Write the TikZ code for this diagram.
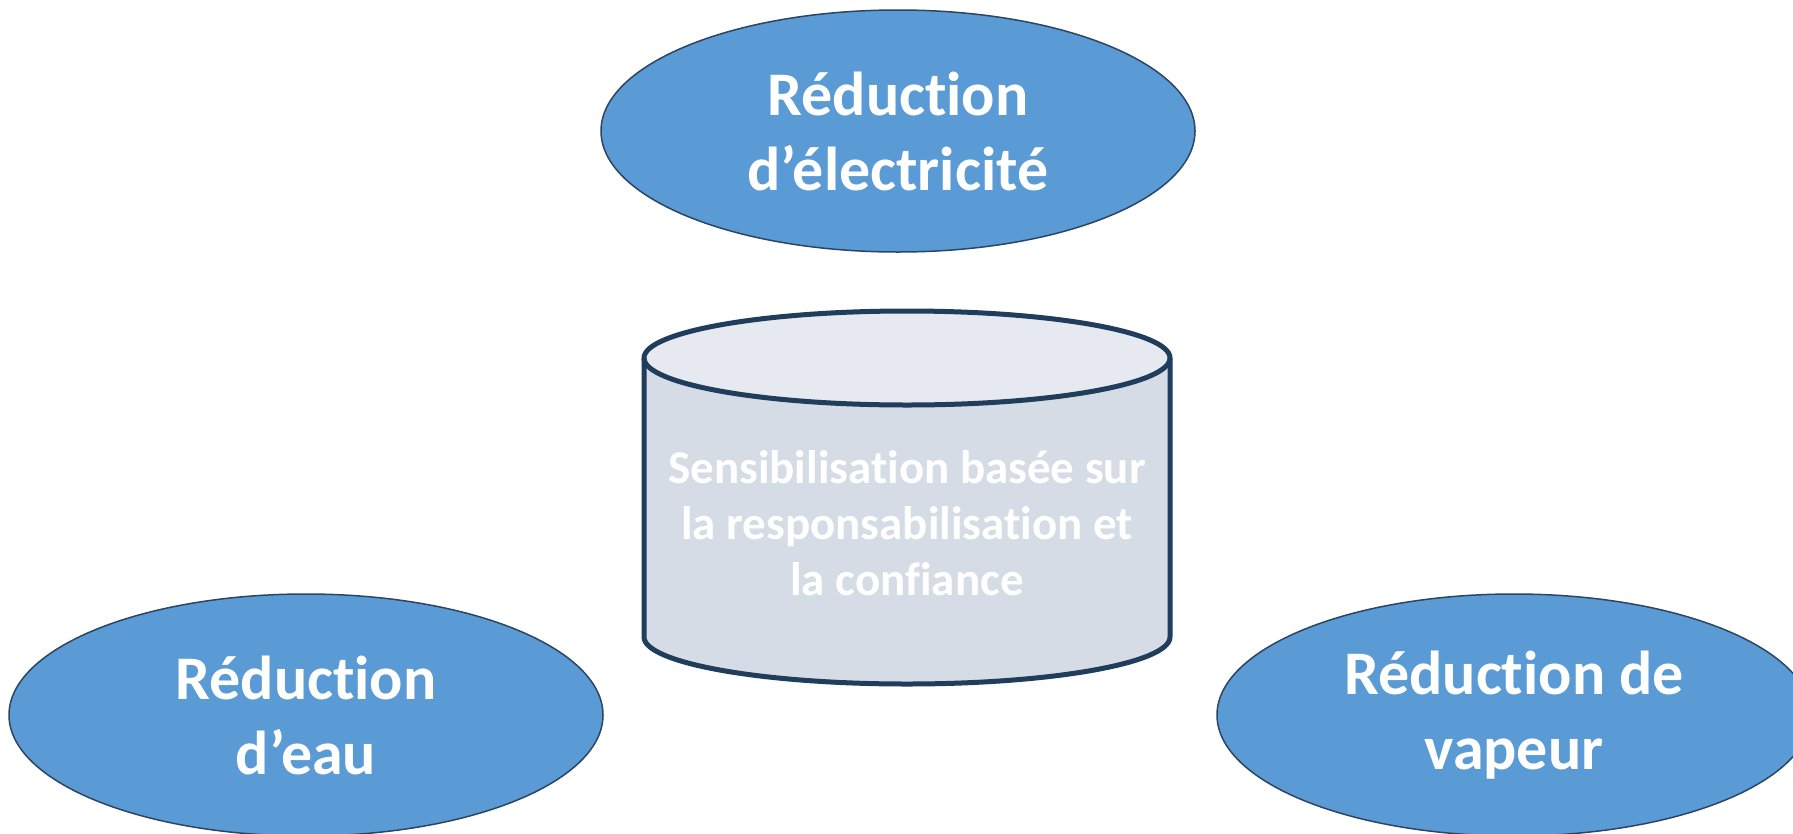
\documentclass[tikz,border=0pt]{standalone}
\usepackage{fontspec}
\setmainfont{Carlito}[Ligatures=NoCommon]
\usetikzlibrary{shapes.geometric}

\definecolor{goalblue}{HTML}{5B9BD5}
\definecolor{goalline}{HTML}{2B4563}
\definecolor{drumline}{HTML}{203D5B}
\definecolor{drumtop}{HTML}{E6EAF0}
\definecolor{drumbody}{HTML}{D6DCE5}

\begin{document}
\begin{tikzpicture}[x=1pt, y=1pt,
    goal/.style={ellipse, draw=goalline, line width=1.5pt, fill=goalblue,
      minimum width=594, minimum height=242, inner sep=0pt, align=center,
      text=white, font=\fontsize{62}{75}\selectfont\bfseries},
    drum/.style={draw=drumline, line width=5pt, line join=round}]

    \useasboundingbox (0,0) rectangle (1793,-833);

    % The three targets
    \node[goal] (elec) at (898,-131) {Réduction\\d’électricité};
    \node[goal] (water) at (306,-715) {Réduction\\d’eau};
    \node[goal] (steam) at (1514,-715) {Réduction de\\vapeur};

    % Cylinder in the middle
    \fill[drumbody] (644,-358) -- (644,-637)
        arc[start angle=180, end angle=360, x radius=263, y radius=47]
        -- (1170,-358) -- cycle;
    \fill[drumtop] (907,-358) ellipse[x radius=263, y radius=47];
    \draw[drum] (644,-358) -- (644,-637)
        arc[start angle=180, end angle=360, x radius=263, y radius=47]
        -- (1170,-358);
    \draw[drum] (907,-358) ellipse[x radius=263, y radius=47];
    \node[align=center, text=white, font=\fontsize{47}{56}\selectfont\bfseries]
        (aware) at (907,-523)
        {Sensibilisation basée sur\\la responsabilisation et\\la confiance};

\end{tikzpicture}
\end{document}
